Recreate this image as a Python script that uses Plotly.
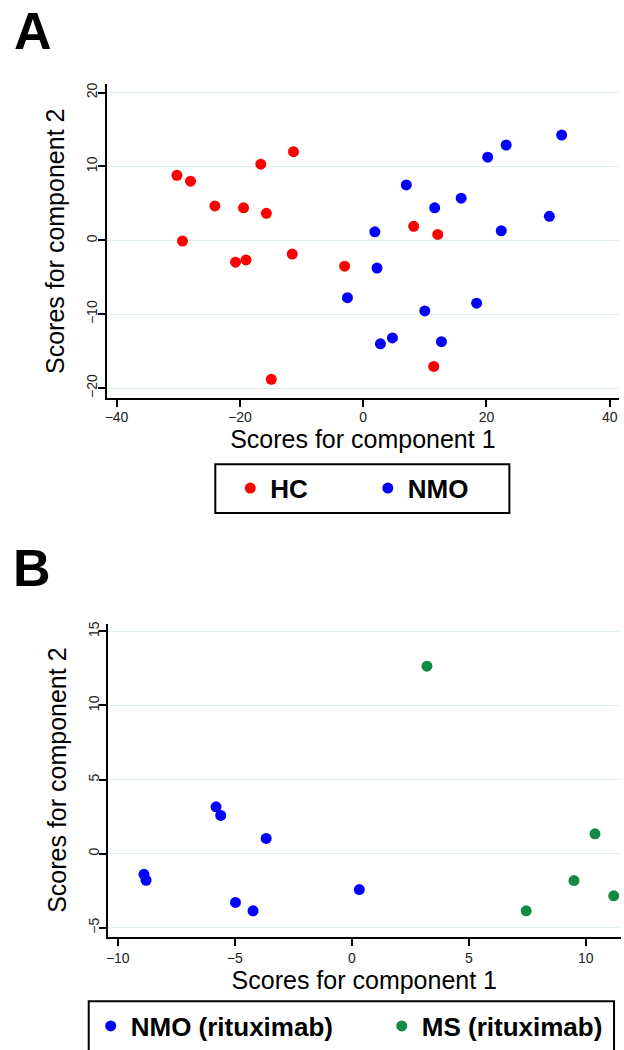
import plotly.graph_objects as go

W, H = 624, 1050

# ---------------- Data ----------------
# Panel A: HC vs NMO
hc_x = [-30.2, -28.0, -24.05, -19.4, -16.6, -15.7, -11.3, -29.3, -20.7, -19.0, -11.5, -3.0, -14.9, 8.2, 12.1, 11.45]
hc_y = [8.8, 8.0, 4.65, 4.4, 10.3, 3.65, 12.0, -0.1, -2.95, -2.65, -1.85, -3.5, -18.8, 1.9, 0.8, -17.05]

nmo_x = [32.2, 23.2, 20.2, 7.0, 15.9, 11.6, 30.2, 22.4, 1.9, 2.25, -2.55, 18.4, 10.0, 4.75, 2.8, 12.7]
nmo_y = [14.25, 12.9, 11.25, 7.5, 5.7, 4.4, 3.25, 1.3, 1.15, -3.75, -7.75, -8.5, -9.55, -13.2, -14.0, -13.7]

# Panel B: NMO (rituximab) vs MS (rituximab)
nmor_x = [-5.8, -5.6, -3.66, -8.88, -8.79, 0.32, -4.97, -4.22]
nmor_y = [3.16, 2.58, 1.03, -1.39, -1.79, -2.42, -3.29, -3.85]

msr_x = [3.21, 10.39, 9.49, 11.19, 7.45]
msr_y = [12.65, 1.34, -1.81, -2.84, -3.85]

xticks_a = [-40, -20, 0, 20, 40]
yticks_a = [-20, -10, 0, 10, 20]
xticks_b = [-10, -5, 0, 5, 10]
yticks_b = [-5, 0, 5, 10, 15]

RED, BLUE, GREEN = "#ff0000", "#0000ff", "#138a43"
FONT = "Liberation Sans, Arial, Helvetica, sans-serif"


def px(x):
    return x / W


def py(y):
    return 1 - y / H


fig = go.Figure()
fig.add_trace(go.Scatter(x=hc_x, y=hc_y, mode="markers", name="HC", showlegend=True,
                         marker=dict(color=RED, size=11), xaxis="x", yaxis="y", legend="legend"))
fig.add_trace(go.Scatter(x=nmo_x, y=nmo_y, mode="markers", name="NMO", showlegend=True,
                         marker=dict(color=BLUE, size=11), xaxis="x", yaxis="y", legend="legend2"))
fig.add_trace(go.Scatter(x=nmor_x, y=nmor_y, mode="markers", name="NMO (rituximab)", showlegend=True,
                         marker=dict(color=BLUE, size=11), xaxis="x2", yaxis="y2", legend="legend3"))
fig.add_trace(go.Scatter(x=msr_x, y=msr_y, mode="markers", name="MS (rituximab)", showlegend=True,
                         marker=dict(color=GREEN, size=11), xaxis="x2", yaxis="y2", legend="legend4"))

tickfont = dict(family=FONT, size=14, color="#222222")
titlefont = dict(family=FONT, size=25, color="#000000")

common_x = dict(showline=True, linecolor="black", linewidth=2, ticks="outside", ticklen=7,
                tickwidth=2, tickcolor="black", showgrid=False, zeroline=False,
                tickfont=tickfont, fixedrange=True)
common_y = dict(showline=True, linecolor="black", linewidth=2, ticks="outside", ticklen=7,
                tickwidth=2, tickcolor="black", showgrid=True, gridcolor="#dfeeef", gridwidth=1,
                zeroline=False, tickangle=-90, tickfont=tickfont, ticklabelstandoff=-5,
                fixedrange=True)

legfont = dict(family=FONT, size=26, color="black", weight="bold")


def leg(xpix, ypix):
    return dict(visible=True, orientation="h", x=px(xpix), y=py(ypix), xanchor="left",
                yanchor="middle", font=legfont, borderwidth=0, bgcolor="rgba(0,0,0,0)")


fig.update_layout(
    width=W, height=H,
    showlegend=True,
    margin=dict(l=0, r=0, t=0, b=0),
    paper_bgcolor="white", plot_bgcolor="white",
    font=dict(family=FONT),
    xaxis=dict(domain=[px(105), px(619)], range=[-41.6, 41.5], tickvals=xticks_a, anchor="y",
               ticklabelstandoff=-2,
               title=dict(text="Scores for component 1", font=titlefont, standoff=2), **common_x),
    yaxis=dict(domain=[py(397.7), py(82.7)], range=[-21.35, 21.1], tickvals=yticks_a, anchor="x",
               title=dict(text="Scores for component 2", font=titlefont, standoff=12), **common_y),
    xaxis2=dict(domain=[px(106.5), px(620.5)], range=[-10.41, 11.48], tickvals=xticks_b, anchor="y2",
                title=dict(text="Scores for component 1", font=titlefont, standoff=5), **common_x),
    yaxis2=dict(domain=[py(938.3), py(624)], range=[-5.6, 15.52], tickvals=yticks_b, anchor="x2",
                title=dict(text="Scores for component 2", font=titlefont, standoff=12), **common_y),
    legend=leg(229, 488),
    legend2=leg(367, 488),
    legend3=leg(89, 1028),
    legend4=leg(381, 1028),
    shapes=[
        dict(type="rect", xref="paper", yref="paper", x0=px(214), x1=px(509), y0=py(513), y1=py(464),
             line=dict(color="black", width=2), fillcolor="rgba(0,0,0,0)", layer="below"),
        dict(type="rect", xref="paper", yref="paper", x0=px(87), x1=px(614), y0=py(1054), y1=py(1003),
             line=dict(color="black", width=2), fillcolor="rgba(0,0,0,0)", layer="below"),
    ],
    annotations=[
        dict(text="A", x=px(31), y=py(29), xref="paper", yref="paper", showarrow=False,
             xanchor="center", yanchor="middle",
             font=dict(family=FONT, size=52, color="black", weight="bold")),
        dict(text="B", x=px(30), y=py(568), xref="paper", yref="paper", showarrow=False,
             xanchor="center", yanchor="middle",
             font=dict(family=FONT, size=52, color="black", weight="bold")),
    ],
)

fig.write_html("out.html", config={"displayModeBar": False},
               post_script="document.body.style.margin='0';document.body.style.overflow='hidden';")
